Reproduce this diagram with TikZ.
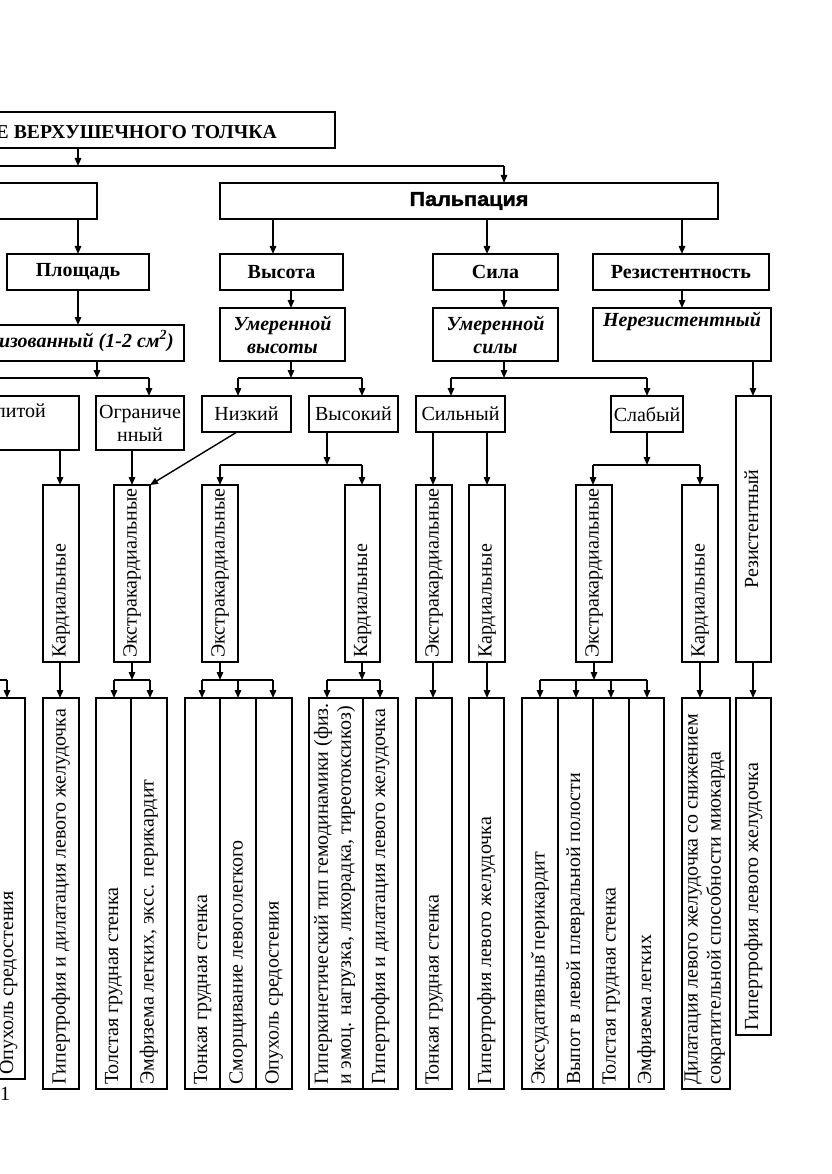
\documentclass[tikz,border=0pt]{standalone}
\usepackage{fontspec}
\usepackage{graphicx}
\setmainfont{Liberation Serif}
\newfontfamily\palfont[BoldFeatures={FakeBold=1.6}]{Liberation Sans}
\usetikzlibrary{arrows.meta}
\newcommand\fs{\fontsize{20}{23}\selectfont}
\newcommand\bx[7][]{\node[box,minimum width={(#5-#3)*1pt},minimum height={(#6-#4)*1pt},#1] (#2) at ({(#3+#5)/2},{(#4+#6)/2}) {#7};}
\newcommand\vt[4][]{\node[vtxt,#1] (#2) at ([yshift=4pt]#3.south) {#4};}
\begin{document}
\begin{tikzpicture}[x=1pt,y=-1pt,
  ln/.style={line width=1.4pt},
  arr/.style={ln,-{Triangle[length=8pt,width=6.5pt]}},
  box/.style={draw,line width=1.4pt,inner sep=0pt,outer sep=0pt,font=\fs,align=center},
  txt/.style={font=\fs,inner sep=0pt,align=center},
  vtxt/.style={font=\fs,inner sep=0pt,rotate=90,anchor=west,align=left,execute at begin node=\strut}]
\useasboundingbox (0,0) rectangle (831,1174);
\fill[white] (0,0) rectangle (831,1174);
\clip (0,0) rectangle (831,1174);
% row 1
\bx{title}{-300}{112}{335}{148}{}
\node[txt,font=\fontsize{19.7}{22}\selectfont\bfseries,anchor=base east] (titletxt) at (277,139) {Е ВЕРХУШЕЧНОГО ТОЛЧКА};
\bx{osm}{-401}{183}{97}{219}{}
\bx{palp}{220}{183}{718}{219}{\fontsize{20}{23}\selectfont\palfont\bfseries\scalebox{1.08}[1]{Пальпация}}
% row 2
\bx{plosh}{7}{254}{149}{290}{\bfseries Площадь}
\bx{vys}{220}{254}{343}{290}{\bfseries Высота}
\bx{sila}{433}{254}{558}{290}{\bfseries Сила}
\bx{rez}{593}{254}{769}{290}{\bfseries Резистентность}
% row 3
\bx{lok}{-200}{325}{184}{361}{}
\node[txt,font=\fs\bfseries\itshape,anchor=base east] (loktxt) at (174,347) {изованный (1-2 см\textsuperscript{2})};
\bx{umv}{220}{308}{345}{361}{\bfseries\itshape Умеренной\\\bfseries\itshape высоты}
\bx{ums}{433}{308}{558}{361}{\bfseries\itshape Умеренной\\\bfseries\itshape силы}
\bx{nerez}{593}{308}{771}{361}{\bfseries\itshape Нерезистентный\\\strut}
% row 4
\bx{razl}{-150}{396}{79}{450}{}
\node[txt,anchor=base east] (razltxt) at (46,417) {литой};
\bx{ogr}{96}{396}{184}{450}{Ограниче\\нный}
\bx{nizk}{202}{396}{291}{432}{Низкий}
\bx{vysk}{309}{396}{398}{432}{Высокий}
\bx{siln}{416}{396}{505}{432}{Сильный}
\bx{slab}{611}{396}{683}{432}{Слабый}
\bx{rezt}{736}{396}{771}{662}{}
\node[vtxt,anchor=center] (rezttxt) at (rezt.center) {Резистентный};
% row 5 vertical
\bx{k1}{43}{485}{79}{662}{}  \vt{k1t}{k1}{Кардиальные}
\bx{e1}{114}{485}{150}{662}{} \vt{e1t}{e1}{Экстракардиальные}
\bx{e2}{202}{485}{238}{662}{} \vt{e2t}{e2}{Экстракардиальные}
\bx{k2}{345}{485}{380}{662}{} \vt{k2t}{k2}{Кардиальные}
\bx{e3}{416}{485}{452}{662}{} \vt{e3t}{e3}{Экстракардиальные}
\bx{k3}{469}{485}{505}{662}{} \vt{k3t}{k3}{Кардиальные}
\bx{e4}{576}{485}{612}{662}{} \vt{e4t}{e4}{Экстракардиальные}
\bx{k4}{682}{485}{718}{662}{} \vt{k4t}{k4}{Кардиальные}
% row 6
\bx{b0}{-10}{698}{25}{1079}{} \vt[yshift=-1pt]{b0t}{b0}{Опухоль средостения}
\bx{b1}{43}{698}{79}{1089}{} \vt{b1t}{b1}{Гипертрофия и дилатация левого желудочка}
\bx{b2}{96}{698}{131}{1089}{} \vt{b2t}{b2}{Толстая грудная стенка}
\bx{b3}{131}{698}{167}{1089}{} \vt{b3t}{b3}{Эмфизема легких, эксс. перикардит}
\bx{b4}{185}{698}{220}{1089}{} \vt{b4t}{b4}{Тонкая грудная стенка}
\bx{b5}{220}{698}{256}{1089}{} \vt{b5t}{b5}{Сморщивание левоголегкого}
\bx{b6}{256}{698}{292}{1089}{} \vt{b6t}{b6}{Опухоль средостения}
\bx{b7}{309}{698}{363}{1089}{} \vt{b7t}{b7}{Гиперкинетический тип гемодинамики (физ.\\\strut и эмоц. нагрузка, лихорадка, тиреотоксикоз)}
\bx{b8}{363}{698}{398}{1089}{} \vt{b8t}{b8}{Гипертрофия и дилатация левого желудочка}
\bx{b9}{416}{698}{452}{1089}{} \vt{b9t}{b9}{Тонкая грудная стенка}
\bx{b10}{469}{698}{504}{1089}{} \vt{b10t}{b10}{Гипертрофия левого желудочка}
\bx{b11}{522}{698}{558}{1089}{} \vt{b11t}{b11}{Экссудативныв̆ перикардит}
\bx{b12}{558}{698}{593}{1089}{} \vt{b12t}{b12}{Выпот в левой плевральной полости}
\bx{b13}{593}{698}{629}{1089}{} \vt{b13t}{b13}{Толстая грудная стенка}
\bx{b14}{629}{698}{664}{1089}{} \vt{b14t}{b14}{Эмфизема легких}
\bx{b15}{682}{698}{730}{1089}{} \vt{b15t}{b15}{Дилатация левого желудочка со снижением\\\strut сократительной способности миокарда}
\bx{b16}{736}{698}{771}{1035}{} \vt{b16t}{b16}{Гипертрофия левого желудочка}
\node[txt] (pg) at (5,1094) {1};
% connectors row 1
\draw[arr] (title.south -| 78,0) -- (78,166);
\draw[ln] (-5,166) -- (504,166);
\draw[arr] (504,166) -- (palp.north -| 504,0);
\draw[arr] (osm.south -| 78,0) -- (plosh.north -| 78,0);
\draw[arr] (palp.south -| 273,0) -- (vys.north -| 273,0);
\draw[arr] (palp.south -| 487,0) -- (sila.north -| 487,0);
\draw[arr] (palp.south -| 682,0) -- (rez.north -| 682,0);
% row 2 -> 3
\draw[arr] (plosh.south -| 78,0) -- (lok.north -| 78,0);
\draw[arr] (vys.south -| 291,0) -- (umv.north -| 291,0);
\draw[arr] (sila.south -| 504,0) -- (ums.north -| 504,0);
\draw[arr] (rez.south -| 682,0) -- (nerez.north -| 682,0);
% row 3 -> 4
\draw[arr] (lok.south -| 97,0) -- (97,378);
\draw[ln] (-5,378) -- (149,378);
\draw[arr] (149,378) -- (ogr.north -| 149,0);
\draw[arr] (umv.south -| 291,0) -- (291,378);
\draw[ln] (238,378) -- (362,378);
\draw[arr] (238,378) -- (nizk.north -| 238,0);
\draw[arr] (362,378) -- (vysk.north -| 362,0);
\draw[arr] (ums.south -| 504,0) -- (504,378);
\draw[ln] (451,378) -- (647,378);
\draw[arr] (451,378) -- (siln.north -| 451,0);
\draw[arr] (647,378) -- (slab.north -| 647,0);
\draw[arr] (nerez.south -| 753,0) -- (rezt.north -| 753,0);
% row 4 -> 5
\draw[arr] (razl.south -| 60,0) -- (k1.north -| 60,0);
\draw[arr] (ogr.south -| 132,0) -- (e1.north -| 132,0);
\draw[arr] (nizk.south -| 237,0) -- (e1.north east);
\draw[arr] (vysk.south -| 327,0) -- (327,465);
\draw[ln] (220,465) -- (362,465);
\draw[arr] (220,465) -- (e2.north -| 220,0);
\draw[arr] (362,465) -- (k2.north -| 362,0);
\draw[arr] (siln.south -| 433,0) -- (e3.north -| 433,0);
\draw[arr] (siln.south -| 487,0) -- (k3.north -| 487,0);
\draw[arr] (slab.south -| 647,0) -- (647,465);
\draw[ln] (593,465) -- (700,465);
\draw[arr] (593,465) -- (e4.north -| 593,0);
\draw[arr] (700,465) -- (k4.north -| 700,0);
% row 5 -> 6
\draw[ln] (-5,680) -- (7,680);
\draw[arr] (7,680) -- (b0.north -| 7,0);
\draw[arr] (k1.south -| 60,0) -- (b1.north -| 60,0);
\draw[arr] (e1.south -| 132,0) -- (132,680);
\draw[ln] (114,680) -- (150,680);
\draw[arr] (114,680) -- (b2.north -| 114,0);
\draw[arr] (150,680) -- (b3.north -| 150,0);
\draw[arr] (e2.south -| 220,0) -- (220,680);
\draw[ln] (202,680) -- (273,680);
\draw[arr] (202,680) -- (b4.north -| 202,0);
\draw[arr] (238,680) -- (b5.north -| 238,0);
\draw[arr] (273,680) -- (b6.north -| 273,0);
\draw[arr] (k2.south -| 362,0) -- (362,680);
\draw[ln] (327,680) -- (380,680);
\draw[arr] (327,680) -- (b7.north -| 327,0);
\draw[arr] (380,680) -- (b8.north -| 380,0);
\draw[arr] (e3.south -| 433,0) -- (b9.north -| 433,0);
\draw[arr] (k3.south -| 487,0) -- (b10.north -| 487,0);
\draw[arr] (e4.south -| 594,0) -- (594,680);
\draw[ln] (540,680) -- (647,680);
\draw[arr] (540,680) -- (b11.north -| 540,0);
\draw[arr] (576,680) -- (b12.north -| 576,0);
\draw[arr] (611,680) -- (b13.north -| 611,0);
\draw[arr] (647,680) -- (b14.north -| 647,0);
\draw[arr] (k4.south -| 700,0) -- (b15.north -| 700,0);
\draw[arr] (rezt.south -| 753,0) -- (b16.north -| 753,0);
\end{tikzpicture}
\end{document}
